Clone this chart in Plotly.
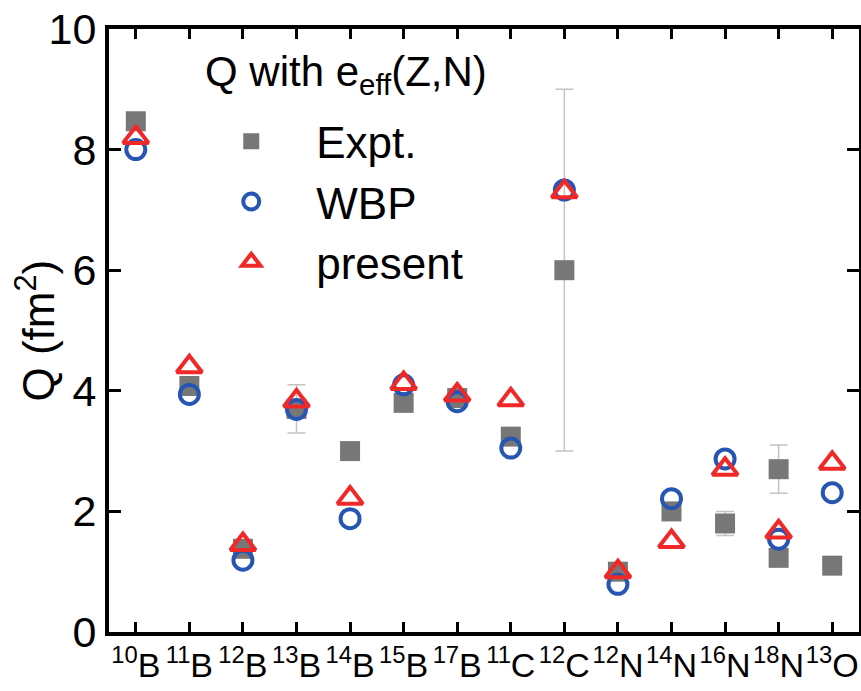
import plotly.graph_objects as go

# ---- data ----
nuclei = ["10B", "11B", "12B", "13B", "14B", "15B", "17B", "11C", "12C", "12N", "14N", "16N", "18N", "13O"]
tick_labels = ["<sup>10</sup>B", "<sup>11</sup>B", "<sup>12</sup>B", "<sup>13</sup>B", "<sup>14</sup>B",
               "<sup>15</sup>B", "<sup>17</sup>B", "<sup>11</sup>C", "<sup>12</sup>C", "<sup>12</sup>N",
               "<sup>14</sup>N", "<sup>16</sup>N", "<sup>18</sup>N", "<sup>13</sup>O"]

expt_nuclei = ["10B", "11B", "12B", "13B", "14B", "15B", "17B", "11C", "12C", "12N", "14N", "16N", "18N", "18N", "13O"]
expt_q      = [8.47, 4.08, 1.38, 3.70, 3.00, 3.80, 3.88, 3.24, 6.00, 1.00, 2.00, 1.80, 2.70, 1.23, 1.10]
expt_err    = [0.0, 0.0, 0.0, 0.40, 0.0, 0.0, 0.0, 0.0, 3.00, 0.0, 0.0, 0.20, 0.40, 0.0, 0.0]

wbp_q     = [8.00, 3.94, 1.19, 3.69, 1.88, 4.10, 3.82, 3.05, 7.33, 0.79, 2.21, 2.87, 1.54, 2.31]
present_q = [8.20, 4.40, 1.45, 3.83, 2.22, 4.12, 3.93, 3.85, 7.30, 1.00, 1.50, 2.70, 1.66, 2.80]

xpos = {n: i for i, n in enumerate(nuclei)}

FONT = "Liberation Sans, Arial, sans-serif"

fig = go.Figure()
fig.add_trace(go.Scatter(
    x=[xpos[n] for n in expt_nuclei], y=expt_q, mode="markers", name="Expt.",
    marker=dict(symbol="square", size=20, color="#777777"),
    error_y=dict(type="data", array=expt_err, visible=True, color="#c4c4c4", thickness=1.5, width=9),
))
fig.add_trace(go.Scatter(
    x=[xpos[n] for n in nuclei], y=wbp_q, mode="markers", name="WBP",
    marker=dict(symbol="circle-open", size=19, color="#2655b2", line=dict(width=4, color="#2655b2")),
))
fig.add_trace(go.Scatter(
    x=[xpos[n] for n in nuclei], y=present_q, mode="markers", name="present",
    marker=dict(symbol="triangle-up-open", size=22, color="#f02828", line=dict(width=4, color="#f02828")),
))

fig.update_layout(
    width=861, height=691,
    margin=dict(l=109, r=2, t=29, b=59, autoexpand=False),
    paper_bgcolor="white", plot_bgcolor="white",
    font=dict(family=FONT, color="black"),
    showlegend=True,
    legend=dict(x=0.103, y=0.872, xanchor="left", yanchor="top", bgcolor="rgba(0,0,0,0)",
                font=dict(size=44, family=FONT), itemwidth=120, itemsizing="trace", tracegroupgap=0),
    annotations=[
        dict(text="Q with e<sub>eff</sub>(Z,N)", xref="paper", yref="paper", x=0.125, y=0.972,
             xanchor="left", yanchor="top", showarrow=False, font=dict(size=42, family=FONT)),
        dict(text="Q (fm<sup>2</sup>)", xref="paper", yref="paper", x=0, y=0.5, xshift=-74,
             xanchor="center", yanchor="middle", textangle=-90, showarrow=False,
             font=dict(size=44, family=FONT)),
    ],
)
fig.update_xaxes(
    range=[-0.5, 13.5], tickmode="array", tickvals=list(range(len(nuclei))), ticktext=tick_labels,
    ticks="inside", ticklen=10, tickwidth=3, tickcolor="black", tickangle=0,
    showline=True, linewidth=4, linecolor="black", mirror="ticks", automargin=False,
    showgrid=False, zeroline=False, tickfont=dict(size=34, family=FONT), ticklabeloverflow="allow",
)
fig.update_yaxes(
    range=[0, 10], dtick=2, tick0=0,
    ticks="inside", ticklen=12, tickwidth=3, tickcolor="black", automargin=False,
    showline=True, linewidth=4, linecolor="black", mirror="ticks",
    showgrid=False, zeroline=False, tickfont=dict(size=43, family=FONT), ticklabeloverflow="allow",
)

fig.write_html("out.html", config={"displayModeBar": False},
               post_script="document.body.style.margin='0';document.body.style.padding='0';")
